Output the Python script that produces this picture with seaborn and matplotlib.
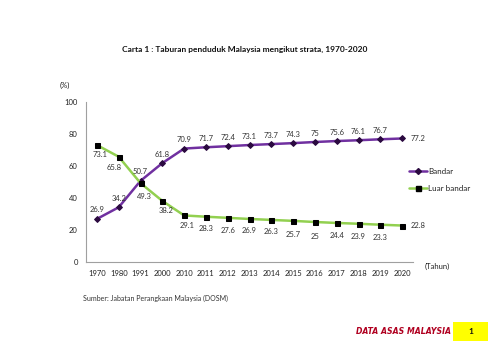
import matplotlib
matplotlib.use("Agg")
import matplotlib.pyplot as plt
from matplotlib.lines import Line2D
from matplotlib.patches import Rectangle
import seaborn as sns
import pandas as pd

years = ["1970", "1980", "1991", "2000", "2010", "2011", "2012", "2013",
         "2014", "2015", "2016", "2017", "2018", "2019", "2020"]
bandar = [26.9, 34.2, 50.7, 61.8, 70.9, 71.7, 72.4, 73.1, 73.7, 74.3, 75, 75.6, 76.1, 76.7, 77.2]
luar_bandar = [73.1, 65.8, 49.3, 38.2, 29.1, 28.3, 27.6, 26.9, 26.3, 25.7, 25, 24.4, 23.9, 23.3, 22.8]
yticks = [0, 20, 40, 60, 80, 100]

df = pd.DataFrame({"Tahun": years, "Bandar": bandar, "Luar bandar": luar_bandar})

sns.set_theme(style="white")
plt.rcParams["font.family"] = ["Lato", "DejaVu Sans"]

fig = plt.figure(figsize=(5.0, 3.52), dpi=100)
ax = fig.add_axes([0.172, 0.2557, 0.654, 0.4545])

purple = "#7030A0"
green = "#92D050"

sns.lineplot(data=df, x="Tahun", y="Bandar", ax=ax, color=purple, linewidth=1.8,
             marker="D", markersize=3.0, markerfacecolor="#2B0A40", markeredgecolor="#2B0A40",
             sort=False)
sns.lineplot(data=df, x="Tahun", y="Luar bandar", ax=ax, color=green, linewidth=1.8,
             marker="s", markersize=3.6, markerfacecolor="black", markeredgecolor="black",
             sort=False)

n = len(years)
ax.set_xlim(-0.5, n - 0.5)
ax.set_ylim(0, 100)
ax.set_yticks(yticks)
ax.set_yticklabels([str(t) for t in yticks])
ax.set_xlabel("")
ax.set_ylabel("")
for s in ["top", "right"]:
    ax.spines[s].set_visible(False)
for s in ["left", "bottom"]:
    ax.spines[s].set_color("#A0A0A0")
    ax.spines[s].set_linewidth(0.8)
ax.tick_params(axis="both", labelsize=5.5, colors="#A0A0A0", labelcolor="#222222",
               length=3, width=0.7)
ax.tick_params(axis="x", direction="inout", pad=4)
ax.tick_params(axis="y", direction="out", pad=3)

lab_kw = dict(textcoords="offset pixels", ha="center", va="center",
              fontsize=5.5, color="#333333")
for i, (yr, v) in enumerate(zip(years, bandar)):
    if i == n - 1:
        ax.annotate(f"{v:g}", xy=(i, v), xytext=(16, 0), **lab_kw)
    else:
        ax.annotate(f"{v:g}", xy=(i, v), xytext=(0, 9), **lab_kw)
green_dy = [9, 11, 13, 10, 10, 12, 13, 12, 12, 14, 15, 13, 13, 13]
green_dx = [3, -5, 4, 4, 3, 0, 0, 0, 0, 0, 0, 0, 0, 0]
for i, (yr, v) in enumerate(zip(years, luar_bandar)):
    if i == n - 1:
        ax.annotate(f"{v:g}", xy=(i, v), xytext=(16, 0), **lab_kw)
    else:
        ax.annotate(f"{v:g}", xy=(i, v), xytext=(green_dx[i], -green_dy[i]), **lab_kw)

handles = [
    Line2D([], [], color=purple, linewidth=1.8, marker="D", markersize=3.0,
           markerfacecolor="#2B0A40", markeredgecolor="#2B0A40"),
    Line2D([], [], color=green, linewidth=1.8, marker="s", markersize=3.6,
           markerfacecolor="black", markeredgecolor="black"),
]
fig.legend(handles, ["Bandar", "Luar bandar"], loc="upper left",
           bbox_to_anchor=(409 / 500, 1 - 168 / 352), frameon=False,
           fontsize=5.8, handlelength=2.2, handletextpad=0.2, labelspacing=1.2,
           borderpad=0, borderaxespad=0, labelcolor="#222222")

fig.text(245 / 500, 1 - 49 / 352,
         "Carta 1 : Taburan penduduk Malaysia mengikut strata, 1970-2020",
         ha="center", va="center", fontsize=6, fontweight="bold", color="#111111")
fig.text(60 / 500, 1 - 85 / 352, "(%)", ha="left", va="center", fontsize=5.5, color="#222222")
fig.text(425 / 500, 1 - 266 / 352, "(Tahun)", ha="left", va="center", fontsize=5.5, color="#222222")
fig.text(83 / 500, 1 - 298 / 352, "Sumber: Jabatan Perangkaan Malaysia (DOSM)",
         ha="left", va="center", fontsize=5, color="#333333")
fig.text(404 / 500, 1 - 331 / 352, "DATA ASAS MALAYSIA", ha="center", va="center",
         fontsize=5.6, fontweight="bold", fontstyle="italic", color="#B00020",
         family=["DejaVu Sans"])
fig.patches.append(Rectangle((453 / 500, 1 - 341 / 352), 35 / 500, 19 / 352,
                             transform=fig.transFigure, facecolor="#FFFF00",
                             edgecolor="none", zorder=0))
fig.text(470.5 / 500, 1 - 331 / 352, "1", ha="center", va="center",
         fontsize=6, fontweight="bold", color="#111111")

fig.savefig("out.png", dpi=100)
